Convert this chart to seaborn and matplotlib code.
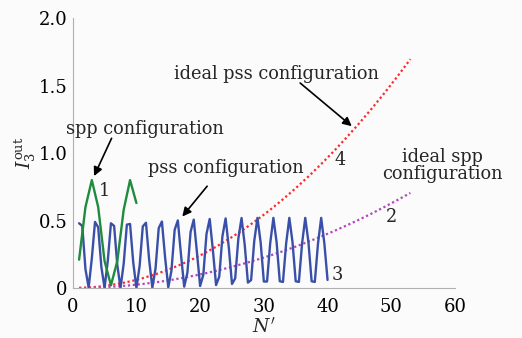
import matplotlib
matplotlib.use("Agg")
import matplotlib.pyplot as plt
import seaborn as sns
import pandas as pd
import numpy as np

# ---- data ----
spp_N = [1, 2, 3, 4, 5, 6, 7, 8, 9, 10]
spp_I = [0.21, 0.60, 0.80, 0.60, 0.20, 0.02, 0.20, 0.58, 0.80, 0.63]

pss_N = [1.0, 1.5, 2.0, 2.5, 3.0, 3.5, 4.0, 4.5, 5.0, 5.5,
         6.0, 6.5, 7.0, 7.5, 8.0, 8.5, 9.0, 9.5, 10.0, 10.5,
         11.0, 11.5, 12.0, 12.5, 13.0, 13.5, 14.0, 14.5, 15.0, 15.5,
         16.0, 16.5, 17.0, 17.5, 18.0, 18.5, 19.0, 19.5, 20.0, 20.5,
         21.0, 21.5, 22.0, 22.5, 23.0, 23.5, 24.0, 24.5, 25.0, 25.5,
         26.0, 26.5, 27.0, 27.5, 28.0, 28.5, 29.0, 29.5, 30.0, 30.5,
         31.0, 31.5, 32.0, 32.5, 33.0, 33.5, 34.0, 34.5, 35.0, 35.5,
         36.0, 36.5, 37.0, 37.5, 38.0, 38.5, 39.0, 39.5, 40.0]
pss_I = [0.48, 0.46, 0.14, 0.003, 0.22, 0.49, 0.45, 0.155, 0.001, 0.20,
         0.48, 0.46, 0.17, 0.0, 0.18, 0.47, 0.475, 0.19, 0.0, 0.163,
         0.457, 0.484, 0.208, 0.002, 0.145, 0.444, 0.493, 0.227, 0.005, 0.129,
         0.431, 0.501, 0.245, 0.010, 0.113, 0.416, 0.507, 0.264, 0.015, 0.098,
         0.401, 0.512, 0.282, 0.022, 0.084, 0.384, 0.516, 0.301, 0.030, 0.071,
         0.368, 0.519, 0.319, 0.040, 0.059, 0.351, 0.520, 0.337, 0.048, 0.048,
         0.333, 0.520, 0.340, 0.050, 0.045, 0.330, 0.520, 0.340, 0.050, 0.045,
         0.330, 0.520, 0.340, 0.050, 0.045, 0.330, 0.520, 0.330, 0.060]

ideal_N = [1, 3, 5, 7, 9, 11, 13, 15, 17, 19, 21, 23, 25, 27,
           29, 31, 33, 35, 37, 39, 41, 43, 45, 47, 49, 51, 53]
ideal_pss_I = [0.001, 0.005, 0.015, 0.030, 0.049, 0.073, 0.102, 0.136, 0.175,
               0.218, 0.266, 0.320, 0.378, 0.440, 0.508, 0.580, 0.658, 0.740,
               0.827, 0.919, 1.015, 1.117, 1.223, 1.334, 1.450, 1.571, 1.697]
ideal_spp_I = [0.000, 0.002, 0.006, 0.012, 0.020, 0.030, 0.042, 0.056, 0.073,
               0.091, 0.111, 0.133, 0.157, 0.183, 0.211, 0.241, 0.273, 0.307,
               0.344, 0.382, 0.422, 0.464, 0.508, 0.554, 0.603, 0.653, 0.705]

x_ticks = [0, 10, 20, 30, 40, 50, 60]
y_ticks = [0, 0.5, 1.0, 1.5, 2.0]
y_tick_labels = ["0", "0.5", "1.0", "1.5", "2.0"]

# ---- style ----
sns.set_style("white")
plt.rcParams["font.family"] = ["DejaVu Serif", "DejaVu Sans"]
plt.rcParams["mathtext.fontset"] = "dejavuserif"

BG = "#fbfbfb"
fig = plt.figure(figsize=(5.22, 3.38), dpi=100, facecolor=BG)
ax = fig.add_axes([0.1393, 0.1479, 0.8716 - 0.1393, 0.9459 - 0.1479])
ax.set_facecolor(BG)

df_spp = pd.DataFrame({"N": spp_N, "I": spp_I})
df_pss = pd.DataFrame({"N": pss_N, "I": pss_I})
df_ideal = pd.DataFrame({"N": ideal_N, "pss": ideal_pss_I, "spp": ideal_spp_I})

sns.lineplot(data=df_ideal, x="N", y="pss", ax=ax, color="#ff2a2a",
             linestyle=(0, (1, 1.2)), linewidth=1.6, sort=False, estimator=None)
sns.lineplot(data=df_ideal, x="N", y="spp", ax=ax, color="#b444c0",
             linestyle=(0, (1, 1.2)), linewidth=1.6, sort=False, estimator=None)
sns.lineplot(data=df_pss, x="N", y="I", ax=ax, color="#3a50a8",
             linewidth=1.7, sort=False, estimator=None)
sns.lineplot(data=df_spp, x="N", y="I", ax=ax, color="#1e8c3c",
             linewidth=1.7, sort=False, estimator=None)

ax.set_xlim(0, 60)
ax.set_ylim(0, 2.0)
ax.set_xticks(x_ticks)
ax.set_yticks(y_ticks)
ax.set_yticklabels(y_tick_labels)
for s in ["top", "right"]:
    ax.spines[s].set_visible(False)
for s in ["left", "bottom"]:
    ax.spines[s].set_color("#b0b0b0")
    ax.spines[s].set_linewidth(0.8)
ax.tick_params(axis="both", direction="in", length=3, width=0.8,
               color="#b0b0b0", labelsize=13, labelcolor="black")
ax.tick_params(axis="x", pad=7)
ax.tick_params(axis="y", pad=4)

ax.set_xlabel(r"$N'$", fontsize=13.5, labelpad=1)
ax.set_ylabel(r"$I_3^{\mathrm{out}}$", fontsize=13.5, labelpad=0)

fs = 12.8
ax.text(32.0, 1.59, "ideal pss configuration", fontsize=fs, ha="center", va="center")
ax.text(11.4, 1.18, "spp configuration", fontsize=fs, ha="center", va="center")
ax.text(24.0, 0.89, "pss configuration", fontsize=fs, ha="center", va="center")
ax.text(58.1, 0.91, "ideal spp\nconfiguration", fontsize=fs, ha="center",
        va="center", linespacing=0.95)
ax.text(5.0, 0.72, "1", fontsize=fs, ha="center", va="center")
ax.text(41.9, 0.95, "4", fontsize=fs, ha="center", va="center")
ax.text(50.1, 0.53, "2", fontsize=fs, ha="center", va="center")
ax.text(41.5, 0.10, "3", fontsize=fs, ha="center", va="center")

arrow = dict(arrowstyle="-|>", color="black", lw=1.2, mutation_scale=13,
             shrinkA=0, shrinkB=0)
ax.annotate("", xy=(3.35, 0.83), xytext=(6.1, 1.11), arrowprops=arrow)
ax.annotate("", xy=(17.2, 0.53), xytext=(21.1, 0.755), arrowprops=arrow)
ax.annotate("", xy=(43.8, 1.20), xytext=(35.7, 1.52), arrowprops=arrow)

fig.savefig("out.png", dpi=100, facecolor=BG)
